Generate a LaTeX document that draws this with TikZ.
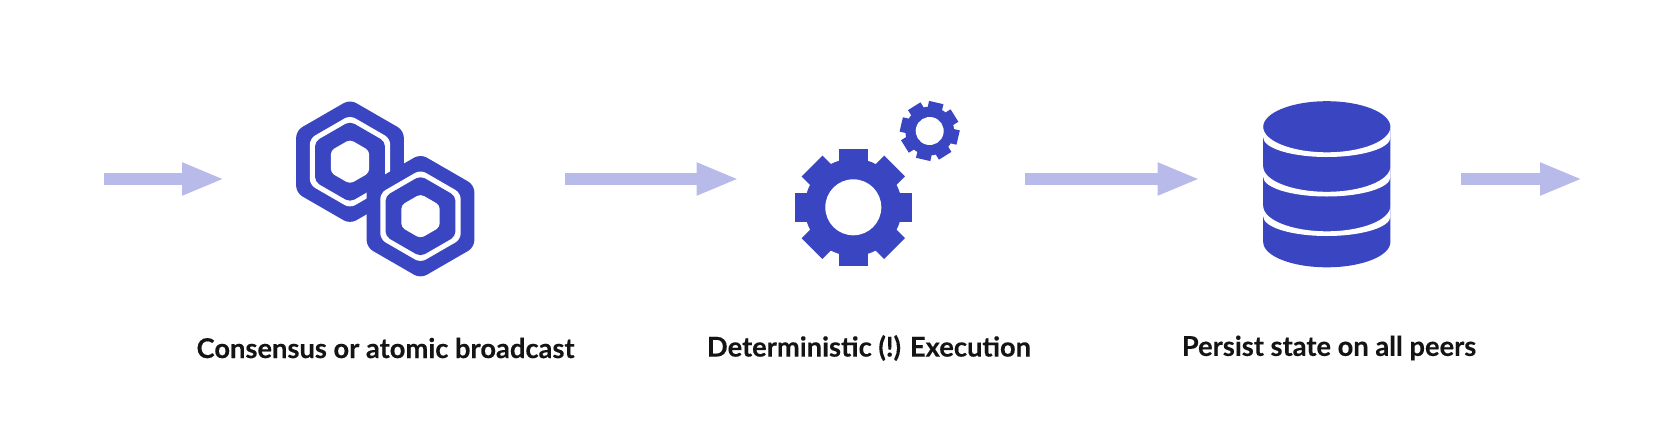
\documentclass[tikz,border=0pt]{standalone}
\usepackage{fontspec}
\setmainfont{Lato}[BoldFeatures={FakeBold=0.25}]
\usetikzlibrary{arrows.meta}
\definecolor{iconblue}{HTML}{3A45C1}
\definecolor{flowblue}{HTML}{B8BAE9}
\newcommand{\hexring}[1]{(30:#1) -- (90:#1) -- (150:#1) -- (210:#1) -- (270:#1) -- (330:#1) -- cycle}
\tikzset{
  pics/hexnut/.style={code={
    \fill[iconblue,rounded corners=7pt] \hexring{62.2};
    \fill[white,rounded corners=6pt] \hexring{46.4};
    \fill[iconblue,rounded corners=5pt] \hexring{40.4};
    \fill[white,rounded corners=4pt] \hexring{22.2};
  }},
  pics/gear/.style={code={
    \fill[iconblue] (0,0) circle (48.7);
    \foreach \a in {0,45,...,315}
      \fill[iconblue,rotate=\a] (-14.7,40) rectangle (14.7,58.4);
    \fill[white] (0,0) circle (28);
  }},
  pics/diskband/.style={code={
    \fill[white] (-63.6,0) arc[start angle=180,end angle=360,x radius=63.6,y radius=25.3]
      -- (63.6,-10.5) arc[start angle=0,end angle=-180,x radius=63.6,y radius=19.5] -- cycle;
  }}
}
\begin{document}
\begin{tikzpicture}[x=1pt,y=1pt,flow/.style={draw=flowblue,line width=12pt,-{Triangle[length=42.5pt,width=30pt,fill=flowblue]}},caption/.style={font=\fontsize{27.3}{32}\selectfont\bfseries,text=black!92,inner sep=0pt}]
  \useasboundingbox (0,0) rectangle (1670,-442);
  \coordinate (in) at (103.5,-179);
  \coordinate (hexin) at (224.5,-179);
  \coordinate (hexout) at (564.5,-179);
  \coordinate (gearin) at (739,-179);
  \coordinate (gearout) at (1025,-179);
  \coordinate (dbin) at (1200,-179);
  \coordinate (dbout) at (1461,-179);
  \coordinate (out) at (1582.5,-179);
  \draw[flow] (in) -- (hexin);
  \draw[flow] (hexout) -- (gearin);
  \draw[flow] (gearout) -- (dbin);
  \draw[flow] (dbout) -- (out);
  \pic at (350,-161.7) {hexnut};
  \pic at (420.5,-216.2) {hexnut};
  \pic at (853.3,-207.3) {gear};
  \pic[scale=.5,rotate=-13] at (929.7,-131) {gear};
  \fill[iconblue] (1263.2,-127) arc[start angle=180,end angle=0,x radius=63.6,y radius=25.8]
    -- (1390.4,-242) arc[start angle=360,end angle=180,x radius=63.6,y radius=25.3] -- cycle;
  \pic at (1326.8,-127) {diskband};
  \pic at (1326.8,-166.5) {diskband};
  \pic at (1326.8,-206) {diskband};
  \node[caption] (consensus) at (385.5,-348) {Consensus or atomic broadcast};
  \node[caption] (execution) at (869,-348) {Deterministic (!) Execution};
  \node[caption] (persist) at (1329,-348) {Persist state on all peers};
\end{tikzpicture}
\end{document}
